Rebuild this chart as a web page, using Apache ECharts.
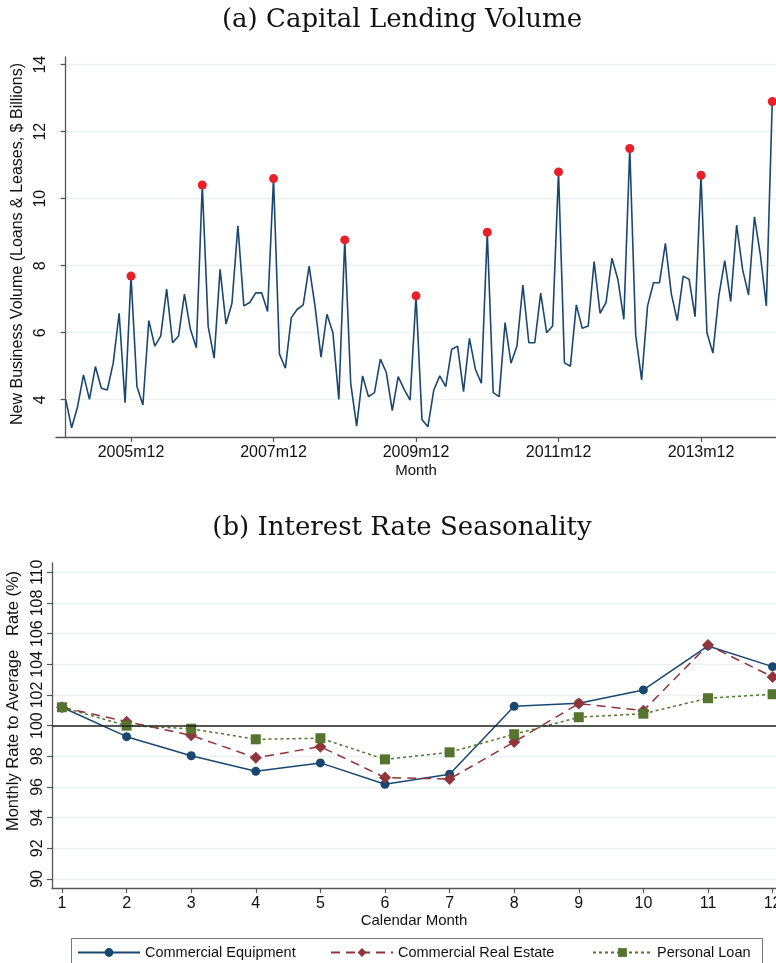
<!DOCTYPE html>
<html><head><meta charset="utf-8">
<script src="https://cdn.jsdelivr.net/npm/echarts@6/dist/echarts.min.js"></script>
<style>html,body{margin:0;padding:0;background:#fff}#c{width:776px;height:963px}</style>
</head><body><div id="c"></div>
<script>
// Panel (a): monthly new business volume, 2005m1 .. 2014m12
const volume = [
  4.01, 3.16, 3.79, 4.74, 4.01, 4.99, 4.34, 4.29, 5.09, 6.58, 3.91, 7.69,
  4.39, 3.84, 6.36, 5.60, 5.90, 7.30, 5.70, 5.90, 7.15, 6.10, 5.55, 10.41,
  6.18, 5.24, 7.89, 6.26, 6.88, 9.19, 6.80, 6.90, 7.19, 7.19, 6.63, 10.60,
  5.36, 4.94, 6.45, 6.70, 6.83, 7.99, 6.78, 5.27, 6.55, 6.00, 4.01, 8.77,
  4.49, 3.21, 4.71, 4.09, 4.21, 5.21, 4.81, 3.67, 4.69, 4.31, 3.99, 7.10,
  3.41, 3.19, 4.29, 4.71, 4.39, 5.50, 5.60, 4.24, 5.83, 4.91, 4.49, 9.00,
  4.21, 4.09, 6.30, 5.09, 5.60, 7.42, 5.70, 5.70, 7.18, 6.00, 6.20, 10.80,
  5.10, 5.00, 6.83, 6.13, 6.20, 8.12, 6.58, 6.90, 8.22, 7.59, 6.40, 11.50,
  5.93, 4.59, 6.80, 7.49, 7.49, 8.67, 7.16, 6.36, 7.69, 7.59, 6.48, 10.70,
  6.00, 5.39, 7.10, 8.15, 6.93, 9.21, 7.89, 7.13, 9.46, 8.32, 6.80, 12.90
];
const startYear = 2005;
const volumeTickLabels = ['2005m12', '2007m12', '2009m12', '2011m12', '2013m12'];
const volumeYTicks = [4, 6, 8, 10, 12, 14];

// Panel (b): monthly rate relative to average rate (%)
const calendarMonths = [1, 2, 3, 4, 5, 6, 7, 8, 9, 10, 11, 12];
const commercialEquipment = [101.2, 99.28, 98.04, 97.02, 97.57, 96.18, 96.83, 101.26, 101.46, 102.33, 105.2, 103.85];
const commercialRealEstate = [101.2, 100.26, 99.37, 97.9, 98.63, 96.61, 96.52, 98.94, 101.44, 100.98, 105.26, 103.18];
const personalLoan = [101.2, 100.0, 99.8, 99.11, 99.18, 97.8, 98.26, 99.44, 100.55, 100.78, 101.79, 102.05];
const rateYTicks = [90, 92, 94, 96, 98, 100, 102, 104, 106, 108, 110];
const seriesNames = ['Commercial Equipment', 'Commercial Real Estate', 'Personal Loan'];

const labelToIndex = s => { const p = s.split('m'); return (parseInt(p[0]) - startYear) * 12 + parseInt(p[1]) - 1; };
const volumeTickIdx = volumeTickLabels.map(labelToIndex);
const idxToLabel = {}; volumeTickLabels.forEach((l, k) => idxToLabel[volumeTickIdx[k]] = l);

const navy = '#1a476f', maroon = '#90353b', green = '#55752f', red = '#e8202a';
const gridColor = '#eaf2f3', axisColor = '#555', txt = '#111';
const sans = 'Liberation Sans, Arial, sans-serif';

const chart = echarts.init(document.getElementById('c'), null, {renderer: 'canvas'});
const axisCommon = {
  axisLine: {show: true, lineStyle: {color: axisColor, width: 1.3}},
  axisTick: {show: true, length: 5, lineStyle: {color: axisColor, width: 1.2}},
  nameTextStyle: {fontFamily: sans, fontSize: 15, color: txt}
};
const legendText = {fontFamily: sans, fontSize: 14.5, color: txt};

chart.setOption({
  animation: false,
  backgroundColor: '#fff',
  title: [
    {text: '(a) Capital Lending Volume', left: 397, top: 2, textAlign: 'center',
     textStyle: {fontFamily: 'DejaVu Serif', fontSize: 26, fontWeight: 'normal', color: '#111'}},
    {text: '(b) Interest Rate Seasonality', left: 397, top: 510, textAlign: 'center',
     textStyle: {fontFamily: 'DejaVu Serif', fontSize: 26, fontWeight: 'normal', color: '#111'}}
  ],
  grid: [
    {left: 56, top: 57, width: 720, height: 380, outerBoundsMode: 'none'},
    {left: 52, top: 563, width: 724, height: 325, outerBoundsMode: 'none'}
  ],
  xAxis: [
    Object.assign({}, axisCommon, {
      gridIndex: 0, type: 'value', min: -1.634, max: 119.63,
      name: 'Month', nameLocation: 'middle', nameGap: 26,
      axisTick: Object.assign({}, axisCommon.axisTick, {customValues: volumeTickIdx}),
      axisLabel: {customValues: volumeTickIdx, formatter: v => idxToLabel[Math.round(v)] || '',
                  fontFamily: sans, fontSize: 16, color: txt, margin: 8},
      splitLine: {show: false}
    }),
    Object.assign({}, axisCommon, {
      gridIndex: 1, type: 'value', min: 0.845, max: 12.053,
      name: 'Calendar Month', nameLocation: 'middle', nameGap: 23,
      axisTick: Object.assign({}, axisCommon.axisTick, {customValues: calendarMonths}),
      axisLabel: {customValues: calendarMonths, fontFamily: sans, fontSize: 16, color: txt, margin: 8},
      splitLine: {show: false}
    })
  ],
  yAxis: [
    Object.assign({}, axisCommon, {
      gridIndex: 0, type: 'value', min: 2.886, max: 14.23,
      name: 'New Business Volume (Loans & Leases, $ Billions)', nameLocation: 'middle', nameGap: 27,
      nameTextStyle: {fontFamily: sans, fontSize: 16, color: txt, padding: [0, 0, 0, 6]},
      axisTick: Object.assign({}, axisCommon.axisTick, {customValues: volumeYTicks}),
      axisLabel: {customValues: volumeYTicks, rotate: 90, fontFamily: sans, fontSize: 16, color: txt, margin: 7},
      splitLine: {show: true, customValues: volumeYTicks, lineStyle: {color: gridColor, width: 1.3}}
    }),
    Object.assign({}, axisCommon, {
      gridIndex: 1, type: 'value', min: 89.41, max: 110.61,
      name: 'Monthly Rate to Average   Rate (%)', nameLocation: 'middle', nameGap: 25,
      nameTextStyle: {fontFamily: sans, fontSize: 16.5, color: txt, padding: [0, 0, 0, 49]},
      axisTick: Object.assign({}, axisCommon.axisTick, {customValues: rateYTicks}),
      axisLabel: {customValues: rateYTicks, rotate: 90, fontFamily: sans, fontSize: 16, color: txt, margin: 6},
      splitLine: {show: true, customValues: rateYTicks, lineStyle: {color: gridColor, width: 1.3}}
    })
  ],
  legend: [
    {data: [seriesNames[0]], left: 77, top: 945, padding: 0, itemWidth: 62, itemHeight: 11, textStyle: legendText},
    {data: [seriesNames[1]], left: 330, top: 945, padding: 0, itemWidth: 62, itemHeight: 11, textStyle: legendText},
    {data: [seriesNames[2]], left: 592, top: 945, padding: 0, itemWidth: 59, itemHeight: 11, textStyle: legendText}
  ],
  graphic: [
    {type: 'rect', shape: {x: 71.5, y: 938.5, width: 691, height: 40},
     style: {fill: 'none', stroke: '#777', lineWidth: 1}, silent: true}
  ],
  series: [
    {type: 'line', xAxisIndex: 0, yAxisIndex: 0, data: volume.map((v, i) => [i, v]),
     showSymbol: false, symbol: 'none', lineStyle: {color: navy, width: 1.6}, silent: true},
    {type: 'scatter', xAxisIndex: 0, yAxisIndex: 0,
     data: volume.map((v, i) => [i, v]).filter(d => d[0] % 12 === 11),
     symbol: 'circle', symbolSize: 9, itemStyle: {color: red, opacity: 1}, silent: true, z: 5},
    {name: seriesNames[0], type: 'line', xAxisIndex: 1, yAxisIndex: 1,
     data: calendarMonths.map((m, i) => [m, commercialEquipment[i]]),
     symbol: 'circle', symbolSize: 9, showAllSymbol: true,
     lineStyle: {color: navy, width: 1.5, type: 'solid'}, itemStyle: {color: navy},
     markLine: {silent: true, symbol: 'none', label: {show: false}, animation: false,
                lineStyle: {color: '#222', width: 1.5, type: 'solid'}, data: [{yAxis: 100}]}},
    {name: seriesNames[1], type: 'line', xAxisIndex: 1, yAxisIndex: 1,
     data: calendarMonths.map((m, i) => [m, commercialRealEstate[i]]),
     symbol: 'diamond', symbolSize: 12, showAllSymbol: true,
     lineStyle: {color: maroon, width: 1.5, type: [9, 6]}, itemStyle: {color: maroon}},
    {name: seriesNames[2], type: 'line', xAxisIndex: 1, yAxisIndex: 1,
     data: calendarMonths.map((m, i) => [m, personalLoan[i]]),
     symbol: 'rect', symbolSize: 10, showAllSymbol: true,
     lineStyle: {color: green, width: 1.5, type: [3, 3]}, itemStyle: {color: green}}
  ]
});
</script></body></html>
